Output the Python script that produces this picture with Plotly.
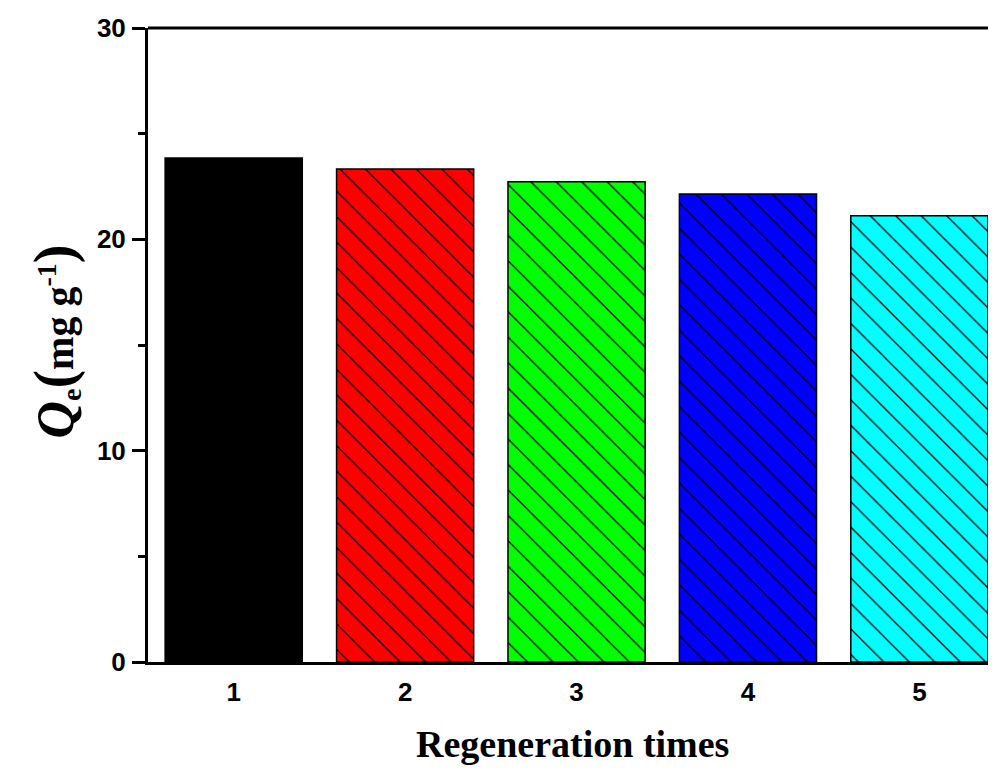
import plotly.graph_objects as go

categories = [1, 2, 3, 4, 5]
qe_values = [23.85, 23.33, 22.73, 22.15, 21.12]
bar_colors = ["#000000", "#ff0000", "#00ff00", "#0000ff", "#00ffff"]
pattern_shapes = ["", "\\", "\\", "\\", "\\"]
y_ticks = [0, 10, 20, 30]

fig = go.Figure()
for cat, val, col, shp in zip(categories, qe_values, bar_colors, pattern_shapes):
    fig.add_trace(go.Bar(
        x=[cat],
        y=[val],
        width=0.8,
        marker=dict(
            color=col,
            line=dict(color="black", width=1.5),
            pattern=dict(shape=shp, fgcolor="#000000", bgcolor=col,
                         fgopacity=1, fillmode="replace", size=18, solidity=0.07),
        ),
    ))

# page body has an 8px margin, so the figure is shrunk by 8px and margins shifted
fig.update_layout(
    width=988, height=763,
    margin=dict(l=140, r=0, t=20, b=109),
    plot_bgcolor="white", paper_bgcolor="white",
    showlegend=False,
    barmode="overlay",
)
fig.update_xaxes(
    range=[0.5, 5.447],
    tickvals=categories,
    ticktext=[str(c) for c in categories],
    ticks="",
    showline=True, linecolor="black", linewidth=3,
    mirror=False, showgrid=False, zeroline=False,
    tickfont=dict(family="Liberation Sans", size=26, color="black", weight="bold"),
    ticklabelstandoff=5,
    automargin=False,
)
fig.update_yaxes(
    range=[0, 30],
    tickvals=y_ticks,
    ticks="outside", ticklen=13, tickwidth=3, tickcolor="black",
    minor=dict(tickvals=[5, 15, 25], ticks="outside", ticklen=7, tickwidth=3, tickcolor="black"),
    showline=True, linecolor="black", linewidth=3,
    showgrid=False, zeroline=False,
    tickfont=dict(family="Liberation Sans", size=26, color="black", weight="bold"),
    ticklabelstandoff=1,
    automargin=False,
)
# top spine
fig.add_shape(type="line", xref="paper", yref="paper", x0=0, x1=1, y0=1, y1=1,
              line=dict(color="black", width=3))

fig.add_annotation(
    text="<b>Regeneration times</b>",
    xref="paper", yref="paper", x=0.5, y=-0.13, xanchor="center", yanchor="middle",
    showarrow=False,
    font=dict(family="Liberation Serif", size=38, color="black"),
)
fig.add_annotation(
    text='<b><span style="font-size:52px"><i>Q</i></span><sub>e</sub>'
         '<span style="font-size:56px">(</span>mg g<sup>-1</sup>'
         '<span style="font-size:56px">)</span></b>',
    xref="paper", yref="paper", x=-0.11, y=0.505, xanchor="center", yanchor="middle",
    textangle=-90, showarrow=False,
    font=dict(family="Liberation Serif", size=40, color="black"),
)

fig.write_html("out.html")
